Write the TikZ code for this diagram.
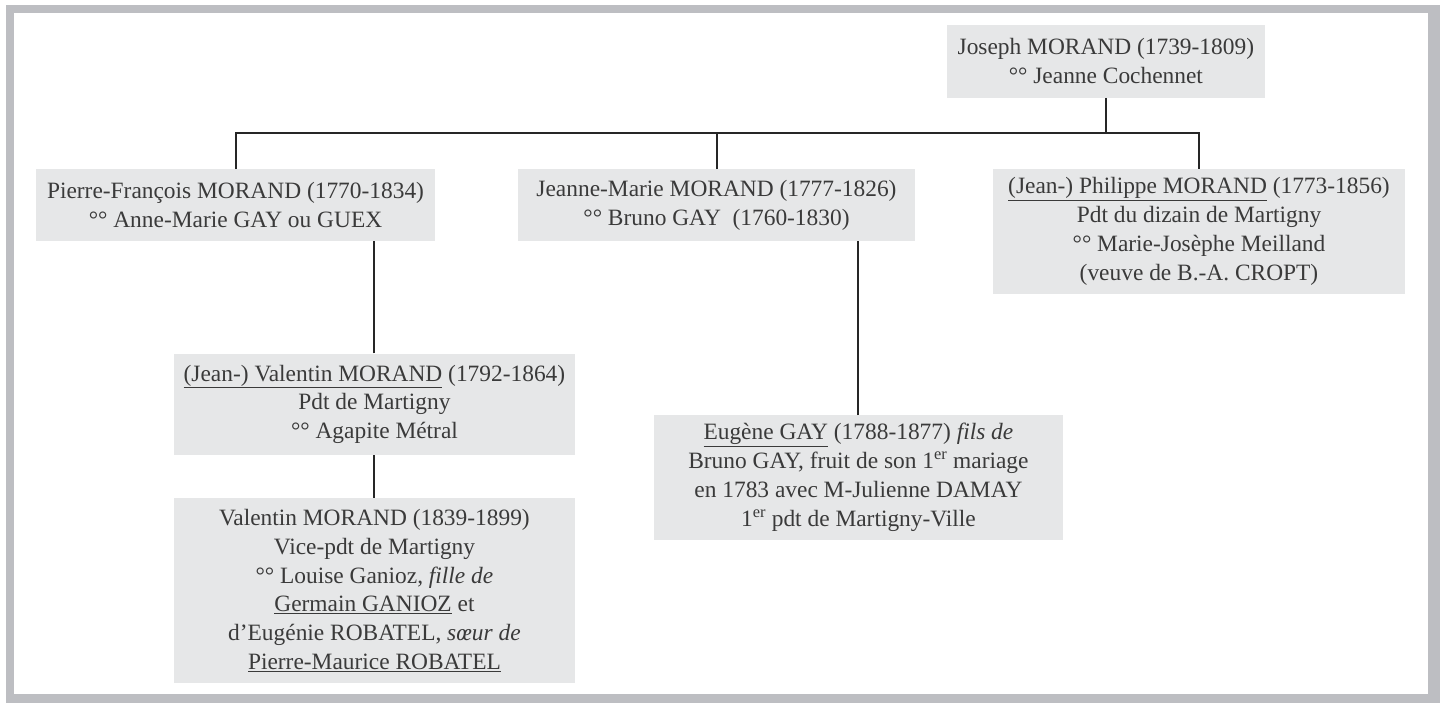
\documentclass[tikz,border=0pt]{standalone}
\usepackage{fontspec}
\setmainfont{Liberation Serif}
\usepackage{tikz}

\definecolor{framegray}{HTML}{BDBEC2}
\definecolor{boxgray}{HTML}{E6E7E8}
\definecolor{inkgray}{HTML}{3A3A3A}

\begin{document}
\begin{tikzpicture}[x=1pt, y=-1pt,
			person/.style = {fill=boxgray, text=inkgray, inner sep=0pt, align=center, font=\fontsize{23.5}{29}\selectfont},
			link/.style = {draw=black!85, line width=2pt}]
			%frame
			\fill[white] (0,0) rectangle (1440,700);
			\fill[framegray] (6,5) rectangle (1446,706);
			\fill[white] (14,13) rectangle (1434,697);
			\useasboundingbox (0,0) rectangle (1440,700);
			%family boxes
			\node[person, minimum width=319pt, minimum height=73pt] (joseph) at (1110.5,61.5) {Joseph MORAND (1739-1809)\\°° Jeanne Cochennet};
			\node[person, minimum width=401pt, minimum height=72pt] (pierre) at (236.5,206) {Pierre-François MORAND (1770-1834)\\°° Anne-Marie GAY ou GUEX};
			\node[person, minimum width=399pt, minimum height=72pt] (jeanne) at (719.5,206) {Jeanne-Marie MORAND (1777-1826)\\°° Bruno GAY\ \ (1760-1830)};
			\node[person, minimum width=414pt, minimum height=125pt] (philippe) at (1204,232.5) {\underline{(Jean-) Philippe MORAND} (1773-1856)\\Pdt du dizain de Martigny\\°° Marie-Josèphe Meilland\\(veuve de B.-A. CROPT)};
			\node[person, minimum width=402pt, minimum height=102pt] (valentin) at (376,406) {\underline{(Jean-) Valentin MORAND} (1792-1864)\\Pdt de Martigny\\°° Agapite Métral};
			\node[person, minimum width=402pt, minimum height=186pt] (valfils) at (376,593) {Valentin MORAND (1839-1899)\\Vice-pdt de Martigny\\°° Louise Ganioz, \textit{fille de}\\\underline{Germain GANIOZ} et\\d’Eugénie ROBATEL, \textit{sœur de}\\\underline{Pierre-Maurice ROBATEL}};
			\node[person, minimum width=410pt, minimum height=125pt] (eugene) at (862,479.5) {\underline{Eugène GAY} (1788-1877) \textit{fils de}\\Bruno GAY, fruit de son 1\textsuperscript{er} mariage\\en 1783 avec M-Julienne DAMAY\\1\textsuperscript{er} pdt de Martigny-Ville};
			%children of Joseph
			\draw[link] (joseph.south) -- ++(0,35) coordinate (bus);
			\draw[link] (pierre.north) |- (bus) -| (philippe.north);
			\draw[link] (jeanne.north) -- (jeanne.north |- bus);
			%descendants
			\draw[link] (valentin.north) -- (valentin.north |- pierre.south);
			\draw[link] (valentin.south) -- (valfils.north);
			\draw[link] (eugene.north) -- (eugene.north |- jeanne.south);
		\end{tikzpicture}
\end{document}
